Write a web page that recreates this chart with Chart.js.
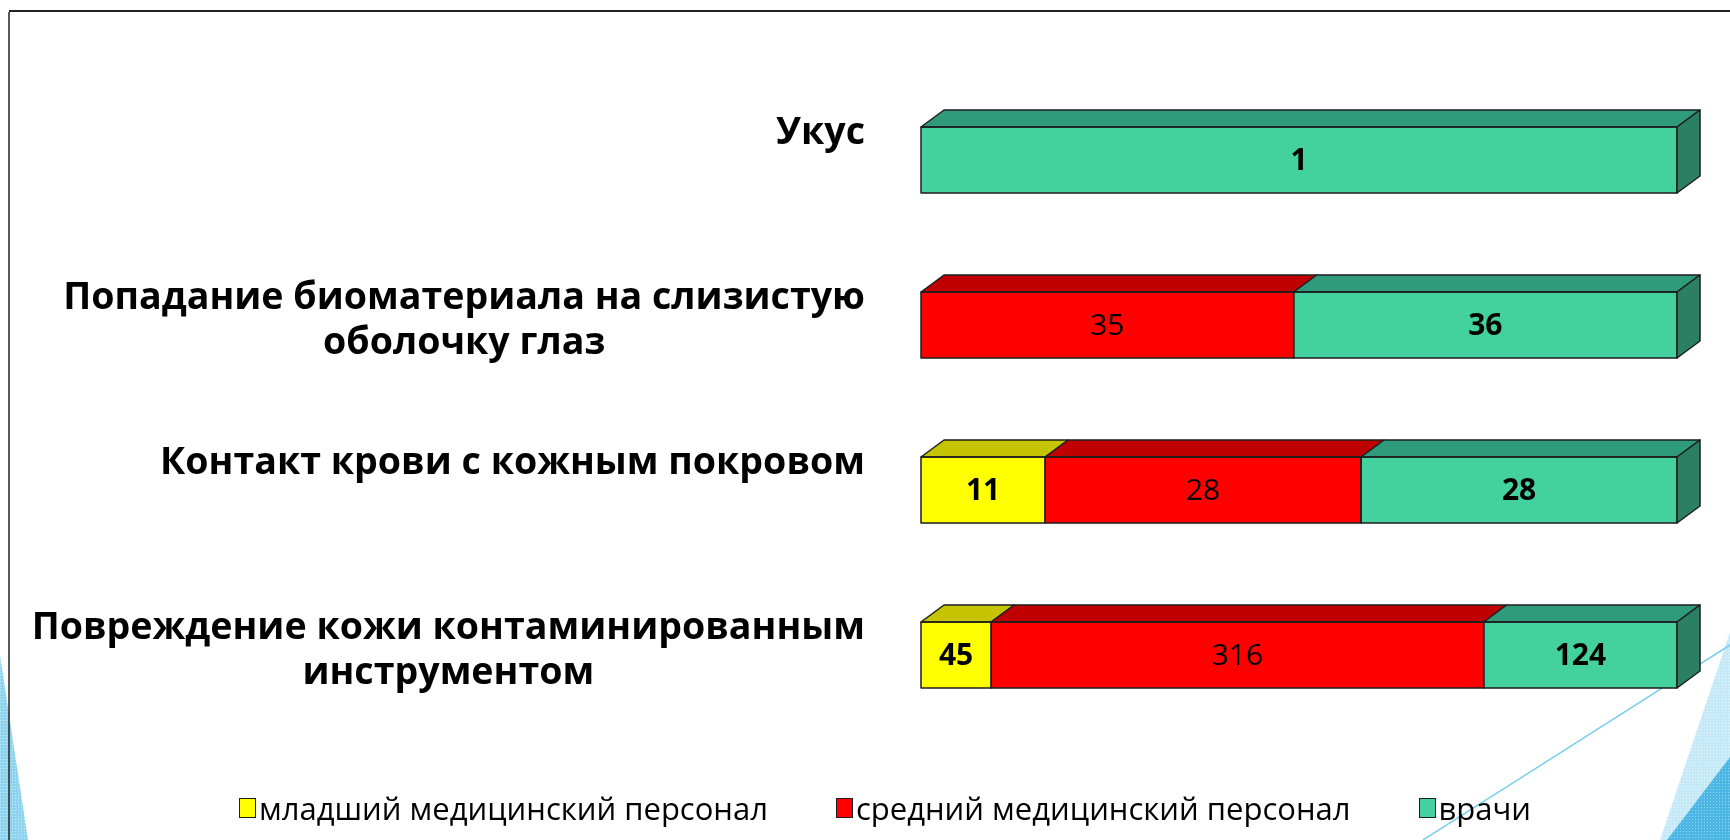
<!DOCTYPE html>
<html><head><meta charset="utf-8">
<script src="https://cdn.jsdelivr.net/npm/chart.js@4.4.1/dist/chart.umd.min.js"></script>
<style>
html,body{margin:0;padding:0;background:#fff;}
#wrap{position:relative;width:1730px;height:840px;overflow:hidden;background:#fff;}
#deco{position:absolute;left:0;top:0;}
#c{position:absolute;left:0;top:0;}
#legend{position:absolute;left:40px;width:1690px;top:788px;height:40px;display:flex;justify-content:center;align-items:center;font-family:"Open Sans",sans-serif;font-size:31px;color:#000;}
.li{display:flex;align-items:center;margin:0 34px;white-space:nowrap;}
.sw{width:15px;height:18px;border:1.5px solid #1e1e1e;margin-right:3px;}
</style></head><body>
<div id="wrap">
<svg id="deco" width="1730" height="840">
  <defs>
    <pattern id="dots" width="3" height="3" patternUnits="userSpaceOnUse">
      <rect width="3" height="3" fill="#8fd3ef"/>
      <rect width="1" height="1" fill="#c9ecf9"/>
    </pattern>
    <pattern id="dots2" width="3" height="3" patternUnits="userSpaceOnUse">
      <rect width="3" height="3" fill="#c6e9f8"/>
      <rect width="1" height="1" fill="#e6f6fc"/>
    </pattern>
    <pattern id="dots3" width="3" height="3" patternUnits="userSpaceOnUse">
      <rect width="3" height="3" fill="#4cb6e4"/>
      <rect width="1" height="1" fill="#8fd3ef"/>
    </pattern>
  </defs>
  <polygon points="0,655 28,840 0,840" fill="url(#dots)"/>
  <polygon points="1730,632 1660,840 1730,840" fill="url(#dots2)"/>
  <polygon points="1730,757 1667,840 1730,840" fill="url(#dots3)"/>
  <line x1="1423" y1="840" x2="1730" y2="645" stroke="#7ccfee" stroke-width="1.5"/>
  <line x1="9" y1="12" x2="9" y2="840" stroke="#222" stroke-width="1.5"/>
  <line x1="9" y1="11" x2="1730" y2="11" stroke="#222" stroke-width="2"/>
</svg>
<canvas id="c" width="1730" height="840"></canvas>
<div id="legend"></div>
</div>
<script>
// ---- data ----
const categories = [
  ["Укус"],
  ["Попадание биоматериала на слизистую", "оболочку глаз"],
  ["Контакт крови с кожным покровом"],
  ["Повреждение кожи контаминированным", "инструментом"]
];
const seriesNames = ["младший медицинский персонал", "средний медицинский персонал", "врачи"];
const juniorStaff  = [0, 0, 11, 45];
const nursingStaff = [0, 35, 28, 316];
const doctors      = [1, 36, 28, 124];

// ---- styles ----
const frontColors = ["#FFFF00", "#FF0000", "#43D1A0"];
const topColors   = ["#C4C400", "#C00000", "#2F9B7B"];
const sideColors  = ["#9C9C00", "#990000", "#2B8063"];
const labelBold   = [true, false, true];
const DX = 23, DY = 17;

const raw = [juniorStaff, nursingStaff, doctors];
const totals = categories.map((_, i) => raw.reduce((s, a) => s + a[i], 0));

const datasets = raw.map((arr, k) => ({
  label: seriesNames[k],
  data: arr.map((v, i) => v / totals[i] * 100),
  rawValues: arr,
  backgroundColor: frontColors[k],
  topColor: topColors[k],
  sideColor: sideColors[k],
  boldLabel: labelBold[k],
  borderWidth: 0,
  barPercentage: 0.5,
  categoryPercentage: 0.8
}));

const depthPlugin = {
  id: 'depth3d',
  afterDatasetsDraw(chart) {
    const ctx = chart.ctx;
    ctx.save();
    ctx.lineWidth = 1.5;
    ctx.strokeStyle = '#1e1e1e';
    ctx.lineJoin = 'round';
    const n = chart.data.labels.length;
    for (let i = 0; i < n; i++) {
      let last = null;
      const segs = [];
      chart.data.datasets.forEach((ds, di) => {
        const meta = chart.getDatasetMeta(di);
        const el = meta.data[i];
        const p = el.getProps(['x', 'y', 'base', 'height'], true);
        if (Math.abs(p.x - p.base) < 0.5) return;
        const x0 = Math.min(p.x, p.base), x1 = Math.max(p.x, p.base);
        const yt = p.y - p.height / 2, yb = p.y + p.height / 2;
        segs.push({x0, x1, yt, yb, y: p.y, ds, val: ds.rawValues[i]});
      });
      segs.forEach(s => {
        ctx.beginPath();
        ctx.moveTo(s.x0, s.yt);
        ctx.lineTo(s.x0 + DX, s.yt - DY);
        ctx.lineTo(s.x1 + DX, s.yt - DY);
        ctx.lineTo(s.x1, s.yt);
        ctx.closePath();
        ctx.fillStyle = s.ds.topColor;
        ctx.fill();
        ctx.stroke();
        ctx.strokeRect(s.x0, s.yt, s.x1 - s.x0, s.yb - s.yt);
        last = s;
      });
      if (last) {
        ctx.beginPath();
        ctx.moveTo(last.x1, last.yt);
        ctx.lineTo(last.x1 + DX, last.yt - DY);
        ctx.lineTo(last.x1 + DX, last.yb - DY);
        ctx.lineTo(last.x1, last.yb);
        ctx.closePath();
        ctx.fillStyle = last.ds.sideColor;
        ctx.fill();
        ctx.stroke();
      }
      segs.forEach(s => {
        ctx.fillStyle = '#000';
        ctx.textAlign = 'center';
        ctx.textBaseline = 'middle';
        ctx.font = (s.ds.boldLabel ? 'bold ' : '') + '30px "Open Sans"';
        ctx.fillText(String(s.val), (s.x0 + s.x1) / 2, s.y + 1);
      });
    }
    // category labels
    const yScale = chart.scales.y;
    ctx.font = 'bold 37.6px "Open Sans"';
    ctx.fillStyle = '#000';
    ctx.textBaseline = 'middle';
    ctx.textAlign = 'center';
    const rightEdge = 865;
    categories.forEach((lines, i) => {
      const cy = yScale.getPixelForValue(i);
      const w = Math.max(...lines.map(l => ctx.measureText(l).width));
      const cx = rightEdge - w / 2;
      lines.forEach((l, j) => ctx.fillText(l, cx, cy - 27 + j * 45));
    });
    ctx.restore();
  }
};

const chart = new Chart(document.getElementById('c'), {
  type: 'bar',
  data: { labels: categories.map(c => c.join(' ')), datasets },
  options: {
    indexAxis: 'y',
    responsive: false,
    animation: false,
    devicePixelRatio: 1,
    layout: { padding: { left: 0, right: 53, top: 77.5, bottom: 102.5 } },
    plugins: { legend: { display: false }, tooltip: { enabled: false } },
    scales: {
      x: { stacked: true, min: 0, max: 100, display: false },
      y: {
        stacked: true,
        grid: { display: false },
        border: { display: false },
        ticks: { display: false },
        afterFit(s) { s.width = 921; }
      }
    }
  },
  plugins: [depthPlugin]
});

// legend built from the series
const lg = document.getElementById('legend');
seriesNames.forEach((name, k) => {
  const item = document.createElement('div');
  item.className = 'li';
  const sw = document.createElement('div');
  sw.className = 'sw';
  sw.style.background = frontColors[k];
  const t = document.createElement('span');
  t.textContent = name;
  item.appendChild(sw);
  item.appendChild(t);
  lg.appendChild(item);
});
</script>
</body></html>
